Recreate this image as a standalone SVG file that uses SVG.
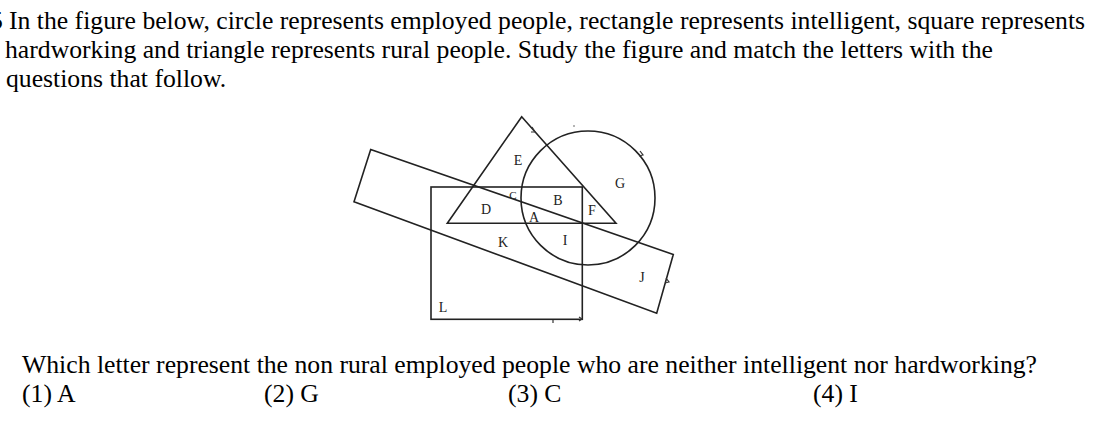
<svg xmlns="http://www.w3.org/2000/svg" width="1120" height="428" viewBox="0 0 1120 428">
<style>
.t{font-family:"Liberation Serif","Times New Roman",serif;font-size:25.7px;fill:#000}
.l{font-family:"Liberation Serif","Times New Roman",serif;font-size:14px;fill:#222;text-anchor:middle}
.s{fill:none;stroke:#222;stroke-width:1.6;stroke-linejoin:miter}
.k{fill:none;stroke:#333;stroke-width:1.2}
</style>
<rect width="1120" height="428" fill="#fff"/>
<text class="t" x="-10" y="29">5</text>
<text class="t" x="9" y="29">In the figure below, circle represents employed people, rectangle represents intelligent, square represents</text>
<text class="t" x="5" y="58">hardworking and triangle represents rural people. Study the figure and match the letters with the</text>
<text class="t" x="6" y="87">questions that follow.</text>
<g id="square"><rect class="s" x="431" y="187" width="151.3" height="132.3"/></g>
<g id="triangle"><polygon class="s" points="521.7,116.7 447.3,223.3 616,223.3"/></g>
<g id="circle"><circle class="s" cx="588" cy="198" r="67"/></g>
<g id="rectangle"><polygon class="s" points="370.7,149.5 673.3,254.5 656.7,313.3 354,201.7"/></g>
<g id="marks">
<path class="k" d="M532,127 l3,5 l-4,0"/>
<path class="k" d="M640,151 l3,4 l-4,1"/>
<path class="k" d="M666,278 l3,4 l-4,1"/>
<path class="k" d="M553,320 l0,3"/>
<path class="k" d="M579,317 l3,2 l-3,2"/>
<circle cx="574" cy="126" r="0.8" fill="#555"/>
</g>
<g id="labels">
<text class="l" x="518" y="165">E</text>
<text class="l" x="620" y="188">G</text>
<text class="l" x="513" y="199" style="font-size:11px">C</text>
<text class="l" x="558" y="205">B</text>
<text class="l" x="486" y="214">D</text>
<text class="l" x="592" y="215">F</text>
<text class="l" x="534" y="222">A</text>
<text class="l" x="503" y="247">K</text>
<text class="l" x="565" y="245">I</text>
<text class="l" x="642" y="282">J</text>
<text class="l" x="443" y="312">L</text>
</g>
<text class="t" x="22" y="373">Which letter represent the non rural employed people who are neither intelligent nor hardworking?</text>
<text class="t" x="22" y="402">(1) A</text>
<text class="t" x="264" y="402">(2) G</text>
<text class="t" x="508" y="402">(3) C</text>
<text class="t" x="813" y="402">(4) I</text>
</svg>
